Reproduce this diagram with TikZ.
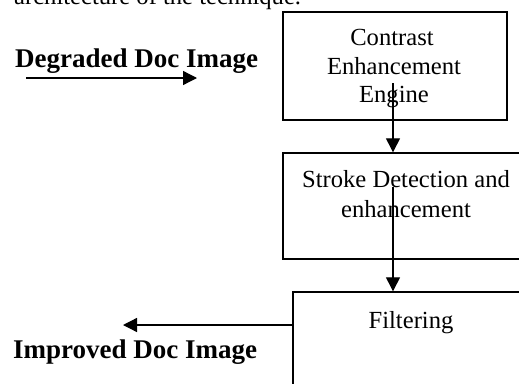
\documentclass[tikz,border=0pt]{standalone}
\usepackage{fontspec}
\setmainfont{Liberation Serif}
\usetikzlibrary{arrows.meta}
\tikzset{
  stage/.style={draw, line width=1.4pt, inner sep=0pt},
  flow/.style={line width=1.3pt, -{Triangle[length=14pt,width=14pt]}},
  body/.style={font=\fontsize{24.6}{29.5}\selectfont, inner sep=0pt, align=center},
  tag/.style={font=\fontsize{27}{32}\selectfont\bfseries, inner sep=0pt},
}
\begin{document}
\begin{tikzpicture}[x=1pt,y=-1pt]
  \useasboundingbox (0,0) rectangle (519,383);
  \clip (0,0) rectangle (519,383);
  \fill[white] (0,0) rectangle (519,383);

  % running text above the figure
  \node[body, anchor=base west] (cap) at (14,4) {architecture of the technique.};

  % processing stages
  \node[stage, minimum width=224pt, minimum height=108pt] (b1) at (395,66) {};
  \node[stage, minimum width=290pt, minimum height=106pt] (b2) at (428,206) {};
  \node[stage, minimum width=280pt, minimum height=140pt] (b3) at (433,362) {};

  \node[body, anchor=base] (t1a) at (392,45) {Contrast};
  \node[body, anchor=base] (t1b) at (394,74) {Enhancement};
  \node[body, anchor=base] (t1c) at (394,102) {Engine};
  \node[body, anchor=base] (t2a) at (406,187) {Stroke Detection and};
  \node[body, anchor=base] (t2b) at (406,217) {enhancement};
  \node[body, anchor=base] (t3) at (411,328) {Filtering};

  % input and output labels
  \node[tag, anchor=base west] (in) at (15,67) {Degraded Doc Image};
  \node[tag, anchor=base west] (out) at (13,358) {Improved Doc Image};

  % connectors
  \coordinate (s0) at (26,78);
  \coordinate (e0) at (197,78);
  \coordinate (s1) at (393,83);
  \coordinate (s2) at (393,187);
  \coordinate (e3) at (123,325);

  \draw[flow] (s0) -- (e0);
  \draw[flow] (s1) -- (s1 |- b2.north);
  \draw[flow] (s2) -- (s2 |- b3.north);
  \draw[flow] (b3.west |- e3) -- (e3);
\end{tikzpicture}
\end{document}
